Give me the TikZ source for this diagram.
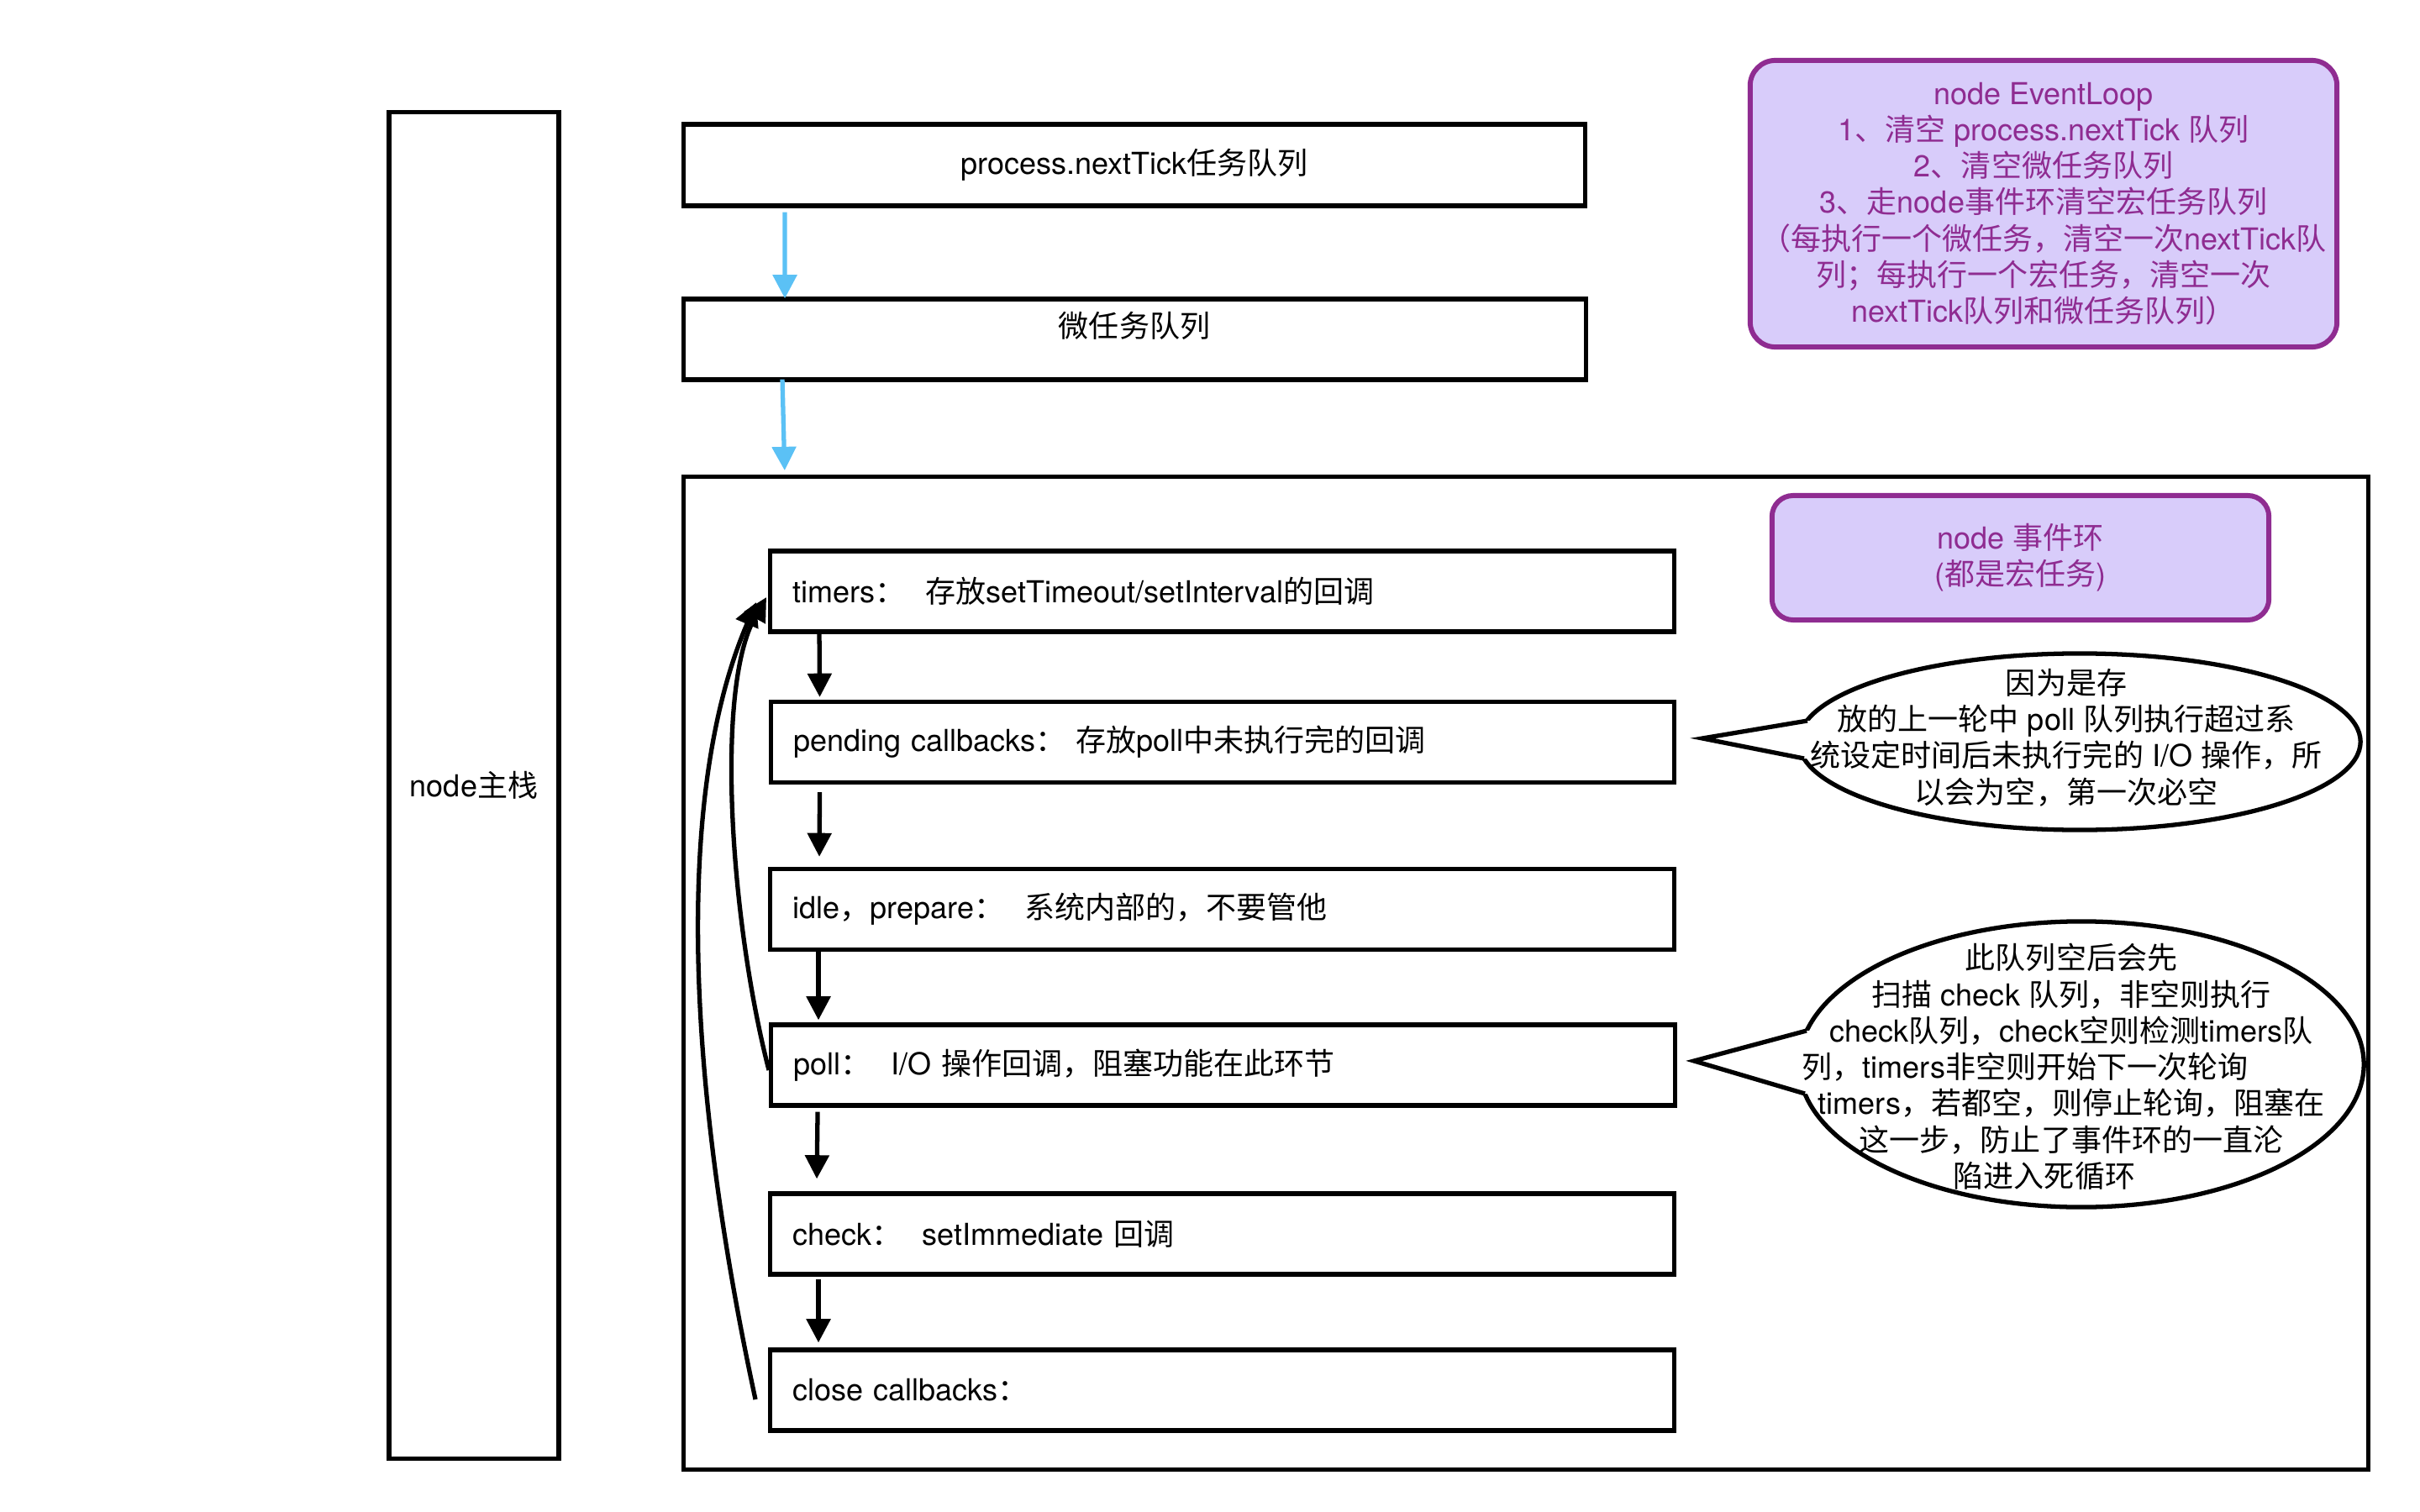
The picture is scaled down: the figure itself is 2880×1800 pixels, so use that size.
\documentclass[tikz,border=0pt]{standalone}
\usepackage{fontspec}
\setmainfont{TeX Gyre Heros}
\newfontfamily\cjkfont{Noto Sans CJK SC}
\XeTeXinterchartokenstate=1
\newXeTeXintercharclass\CJKcls
\newcount\cjkcnt
\def\setcjkrange#1#2{\cjkcnt=#1\relax\loop\XeTeXcharclass\cjkcnt=\CJKcls\relax\ifnum\cjkcnt<#2\relax\advance\cjkcnt by 1\relax\repeat}
\setcjkrange{"3000}{"303F}
\setcjkrange{"4E00}{"9FFF}
\setcjkrange{"FF00}{"FFEF}
\XeTeXinterchartoks 0 \CJKcls = {\cjkfont}
\XeTeXinterchartoks 4095 \CJKcls = {\cjkfont}
\XeTeXinterchartoks \CJKcls 0 = {\rmfamily}
\XeTeXinterchartoks \CJKcls 4095 = {\rmfamily}
\usetikzlibrary{arrows.meta,shapes.geometric,calc}
\definecolor{pborder}{RGB}{143,44,145}
\definecolor{pfill}{RGB}{216,204,250}
\definecolor{pblue}{RGB}{91,193,245}
\begin{document}
\begin{tikzpicture}[x=0.01cm,y=-0.01cm,
  every node/.style={font=\fontsize{10.24pt}{12.3pt}\selectfont},
  box/.style={draw=black, line width=1.5pt, rectangle, inner sep=0pt},
  lbox/.style={box, minimum width=10.75cm, minimum height=0.96cm, text width=10.21cm, inner xsep=0.27cm, inner ysep=0pt, align=left},
  pbox/.style={draw=pborder, fill=pfill, line width=1.7pt, rounded corners=0.3cm, text=pborder, inner sep=0pt, align=center},
  ell/.style={ellipse, draw=black, fill=white, line width=1.5pt, inner sep=0pt},
  arr/.style={line width=1.5pt, -{Triangle[length=8pt,width=8pt]}},
  barr/.style={arr, draw=pblue},
  tail/.style={line width=1.5pt, line join=miter}
]
\fill[white] (0,0) rectangle (2880,1800);
\useasboundingbox (0,0) rectangle (2880,1800);

% main stack
\node[box, minimum width=2.02cm, minimum height=16.02cm] (stack) at (564,935) {node主栈};

% queues
\node[box, minimum width=10.72cm, minimum height=0.97cm] (tick) at (1350,196.5) {process.nextTick任务队列};
\node[box, minimum width=10.73cm, minimum height=0.96cm] (micro) at (1350.5,404) {};
\node (microtxt) at (1350,388) {微任务队列};

% event loop container
\node[box, minimum width=20.04cm, minimum height=11.81cm] (loop) at (1816,1158.5) {};

\node[lbox] (timers)  at (1454.5,704)    {timers：\ \ 存放setTimeout/setInterval的回调};
\node[lbox] (pending) at (1455,883.5)    {pending callbacks：\ 存放poll中未执行完的回调};
\node[lbox] (idle)    at (1454.5,1082.5) {idle，prepare：\ \ 系统内部的，不要管他};
\node[lbox] (poll)    at (1455.5,1268)   {poll：\ \ I/O 操作回调，阻塞功能在此环节};
\node[lbox] (check)   at (1454.5,1469)   {check：\ \ setImmediate 回调};
\node[lbox] (close)   at (1454.5,1655)   {close callbacks：};

% purple notes
\node[pbox, minimum width=6.98cm, minimum height=3.41cm] (el) at (2432,242.5)
  {node EventLoop\\1、清空 process.nextTick 队列\\2、清空微任务队列\\3、走node事件环清空宏任务队列\\（每执行一个微任务，清空一次nextTick队\\列；每执行一个宏任务，清空一次\\nextTick队列和微任务队列）};
\node[pbox, rounded corners=0.25cm, minimum width=5.91cm, minimum height=1.48cm] (ev) at (2404.5,664)
  {node 事件环\\(都是宏任务)};

% callout 1
\node[ell, minimum width=6.68cm, minimum height=2.10cm] (c1) at (2475,883) {};
\coordinate (c1a) at (2151,858);
\coordinate (c1tip) at (2026,879);
\coordinate (c1b) at (2147,903);
\fill[white] (c1tip) -- (c1a) -- ($(c1a)+(25,0)$) -- ($(c1b)+(25,0)$) -- (c1b) -- cycle;
\draw[tail] (c1a) -- (c1tip) -- (c1b);
\node[align=center] (c1t) at (2459,878)
  {因为是存\\放的上一轮中 poll 队列执行超过系\\统设定时间后未执行完的 I/O 操作，所\\以会为空，第一次必空};

% callout 2
\node[ell, minimum width=6.72cm, minimum height=3.40cm] (c2) at (2477,1267) {};
\coordinate (c2a) at (2150,1227);
\coordinate (c2tip) at (2016,1263);
\coordinate (c2b) at (2148,1302);
\fill[white] (c2tip) -- (c2a) -- ($(c2a)+(25,0)$) -- ($(c2b)+(25,0)$) -- (c2b) -- cycle;
\draw[tail] (c2a) -- (c2tip) -- (c2b);
\node[align=center] (c2t) at (2465,1270)
  {此队列空后会先\\扫描 check 队列，非空则执行\\check队列，check空则检测timers队\\列，timers非空则开始下一次轮询\rule{1.1cm}{0pt}\\timers，若都空，则停止轮询，阻塞在\\这一步，防止了事件环的一直沦\\陷进入死循环\rule{0.64cm}{0pt}};

% blue arrows
\draw[barr] ($(tick.south west)+(123,5)$) -- ($(micro.north west)+(123,2)$);
\draw[barr] ($(micro.south west)+(120,-3)$) -- ($(loop.north west)+(123,-5)$);

% black arrows
\draw[arr] ($(timers.south west)+(61,0)$) -- ($(pending.north west)+(61,-3)$);
\draw[arr] ($(pending.south west)+(61,9)$) -- ($(idle.north west)+(61,-12)$);
\draw[arr] ($(idle.south west)+(60,0)$) -- ($(poll.north west)+(59,-3)$);
\draw[arr] ($(poll.south west)+(58,5)$) -- ($(check.north west)+(58,-15)$);
\draw[arr] ($(check.south west)+(60,3)$) -- ($(close.north west)+(60,-6)$);

% loop-back curves
\draw[arr] ($(poll.west)+(0,6)$) .. controls (870,1100) and (850,820) .. ($(timers.west)+(-2,7)$);
\draw[arr] ($(close.west)+(-15,11)$) .. controls (820,1300) and (800,950) .. ($(timers.west)+(-14,13)$);
\end{tikzpicture}
\end{document}
